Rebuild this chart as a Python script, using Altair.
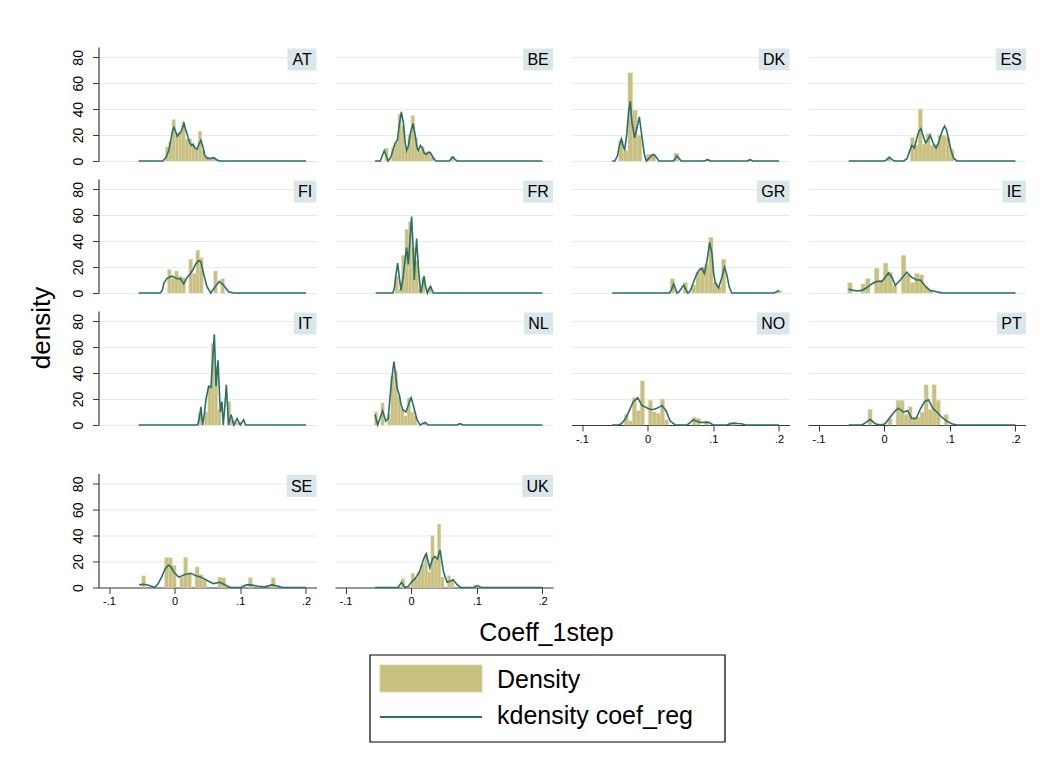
import altair as alt
import pandas as pd

# ---------------- data ----------------
COUNTRIES = ["AT", "BE", "DK", "ES", "FI", "FR", "GR", "IE", "IT", "NL", "NO", "PT", "SE", "UK"]

# histogram: first bin start, bin width, bin heights (density)
bin_start = {
    "AT": -0.014, "BE": -0.040, "DK": -0.044, "ES": 0.004, "FI": -0.0107, "FR": -0.0247,
    "GR": 0.0345, "IE": -0.0555, "IT": 0.0355, "NL": -0.056, "NO": -0.0355, "PT": -0.0245,
    "SE": -0.050, "UK": -0.015,
}
bin_width = {
    "AT": 0.005, "BE": 0.005, "DK": 0.007, "ES": 0.006, "FI": 0.0054, "FR": 0.0051,
    "GR": 0.0065, "IE": 0.0068, "IT": 0.005, "NL": 0.005, "NO": 0.0061, "PT": 0.0061,
    "SE": 0.0058, "UK": 0.005,
}
bin_height = {
    "AT": [11, 15, 32, 22, 22, 30, 17, 17, 12, 9, 23, 8, 3, 2, 3, 1],
    "BE": [10, 0, 10, 14, 36, 27, 8, 20, 35, 18, 8, 11, 7, 7, 3, 0, 0, 0, 0, 0, 3.5],
    "DK": [16, 8, 68, 39, 20, 0, 5, 5, 0, 0, 0, 0, 6, 0, 0, 0, 0, 0, 0, 1, 0, 0, 0, 0, 0, 0, 0, 0, 1],
    "ES": [3, 0, 0, 0, 0, 0, 18, 12, 40, 13, 21, 12, 13, 20, 20, 18, 9],
    "FI": [18, 11, 17, 13, 12, 0, 26, 15, 33, 27, 0, 0, 0, 17, 0, 11],
    "FR": [13, 3, 29, 49, 55, 35, 25, 3, 12, 0, 5],
    "GR": [11, 0, 0, 8, 0, 6, 16, 20, 22, 43, 8, 5, 26, 0, 0, 0, 0, 0, 0, 0, 0, 0, 0, 0, 0, 2],
    "IE": [8, 0, 0, 7, 11, 0, 19, 10, 23, 16, 6, 0, 29, 14, 8, 15, 14, 5, 2, 0, 1],
    "IT": [9, 0, 10, 30, 63, 45, 12, 0, 0, 18, 4, 2, 2],
    "NL": [10, 0, 17, 0, 8, 38, 42, 22, 12, 7, 21, 10, 7, 0, 0, 2, 0, 0, 0, 0, 0, 0, 0, 0, 0, 0, 1],
    "NO": [8, 3, 21, 11, 34, 0, 19, 10, 9, 20, 4, 0, 0, 0, 0, 0, 0, 6, 5, 0, 3, 0, 0, 0, 0, 0, 2, 1.5],
    "PT": [12, 0, 0, 0, 0, 5, 0, 19, 19, 8, 14, 6, 6, 10, 31, 12, 31, 19, 0, 8],
    "SE": [9, 0, 0, 0, 0, 0, 23, 23, 17, 0, 8, 23, 11, 0, 16, 10, 6, 0, 0, 0, 8, 7.5,
           0, 0, 0, 0, 0, 0, 7.5, 0, 0, 0, 0, 0, 7.5],
    "UK": [7, 0, 0, 11, 7, 12, 18, 26, 12, 40, 22, 49, 8, 0, 9, 5, 0, 0, 0, 0, 0, 0, 2],
}

# kernel density curves
kd_x = {
    "AT": [-0.055, -0.018, -0.013, -0.009, -0.006, -0.003, -0.001, 0.002, 0.004, 0.007, 0.010, 0.014, 0.017,
           0.020, 0.023, 0.026, 0.028, 0.031, 0.034, 0.037, 0.040, 0.043, 0.046, 0.050, 0.055, 0.060, 0.064,
           0.068, 0.2],
    "BE": [-0.055, -0.047, -0.044, -0.041, -0.038, -0.035, -0.031, -0.028, -0.025, -0.021, -0.018, -0.015,
           -0.012, -0.009, -0.007, -0.004, -0.001, 0.003, 0.006, 0.009, 0.011, 0.014, 0.017, 0.020, 0.023,
           0.027, 0.030, 0.034, 0.038, 0.058, 0.062, 0.064, 0.067, 0.070, 0.2],
    "DK": [-0.054, -0.050, -0.046, -0.043, -0.040, -0.037, -0.035, -0.032, -0.029, -0.0265, -0.024, -0.020,
           -0.016, -0.0127, -0.009, -0.005, -0.002, 0.002, 0.006, 0.009, 0.013, 0.017, 0.039, 0.042, 0.0447,
           0.048, 0.051, 0.087, 0.091, 0.095, 0.152, 0.156, 0.160, 0.2],
    "ES": [-0.054, 0.0, 0.004, 0.008, 0.012, 0.016, 0.030, 0.035, 0.039, 0.042, 0.046, 0.050, 0.053, 0.056,
           0.059, 0.063, 0.066, 0.070, 0.073, 0.076, 0.079, 0.082, 0.085, 0.089, 0.092, 0.095, 0.098, 0.102,
           0.106, 0.111, 0.2],
    "FI": [-0.055, -0.022, -0.019, -0.016, -0.012, -0.009, -0.004, 0.0, 0.004, 0.009, 0.0137, 0.019, 0.024,
           0.028, 0.0315, 0.0365, 0.040, 0.044, 0.049, 0.055, 0.062, 0.068, 0.0746, 0.082, 0.09, 0.2],
    "FR": [-0.054, -0.028, -0.0255, -0.0237, -0.0206, -0.018, -0.0155, -0.012, -0.0095, -0.0069, -0.0044,
           -0.002, 0.0007, 0.003, 0.0048, 0.0065, 0.0083, 0.011, 0.0144, 0.017, 0.0195, 0.022, 0.0246, 0.027,
           0.0296, 0.032, 0.0337, 0.2],
    "GR": [-0.054, 0.033, 0.0365, 0.0396, 0.0425, 0.0447, 0.048, 0.052, 0.055, 0.058, 0.061, 0.064, 0.0675,
           0.071, 0.075, 0.079, 0.0827, 0.0863, 0.0904, 0.0944, 0.098, 0.1005, 0.103, 0.108, 0.113, 0.117,
           0.1207, 0.124, 0.128, 0.192, 0.1965, 0.2],
    "IE": [-0.054, -0.047, -0.040, -0.034, -0.0265, -0.019, -0.011, -0.0036, 0.0015, 0.0066, 0.012, 0.017,
           0.0245, 0.0345, 0.042, 0.050, 0.055, 0.063, 0.070, 0.080, 0.088, 0.2],
    "IT": [-0.055, 0.035, 0.0375, 0.040, 0.0425, 0.045, 0.0477, 0.0518, 0.0553, 0.0584, 0.0604, 0.063, 0.066,
           0.0695, 0.072, 0.074, 0.0765, 0.0787, 0.082, 0.086, 0.090, 0.095, 0.100, 0.105, 0.108, 0.2],
    "NL": [-0.055, -0.051, -0.047, -0.0435, -0.0405, -0.0384, -0.035, -0.0325, -0.0297, -0.0262, -0.0235,
           -0.0211, -0.018, -0.015, -0.013, -0.0079, -0.0045, -0.0028, 0.0, 0.0033, 0.0083, 0.0134, 0.017,
           0.021, 0.026, 0.070, 0.074, 0.079, 0.2],
    "NO": [-0.054, -0.045, -0.040, -0.035, -0.029, -0.022, -0.015, -0.0086, -0.004, 0.0, 0.005, 0.009, 0.014,
           0.018, 0.022, 0.025, 0.028, 0.031, 0.0345, 0.042, 0.060, 0.065, 0.069, 0.074, 0.080, 0.087, 0.093,
           0.100, 0.120, 0.126, 0.131, 0.137, 0.143, 0.149, 0.2],
    "PT": [-0.054, -0.034, -0.0274, -0.0213, -0.0137, -0.006, 0.0015, 0.009, 0.0168, 0.0218, 0.0294, 0.036,
           0.042, 0.0487, 0.0548, 0.0614, 0.0675, 0.074, 0.0802, 0.0878, 0.0954, 0.103, 0.1107, 0.2],
    "SE": [-0.054, -0.048, -0.041, -0.035, -0.0305, -0.025, -0.02, -0.015, -0.0095, -0.0055, -0.0016, 0.0063,
           0.0157, 0.0247, 0.0325, 0.0404, 0.051, 0.059, 0.069, 0.077, 0.085, 0.101, 0.109, 0.1165, 0.127,
           0.1375, 0.148, 0.1585, 0.164, 0.2],
    "UK": [-0.055, -0.020, -0.0147, -0.0094, -0.004, 0.0, 0.0063, 0.0126, 0.0189, 0.023, 0.0284, 0.0325,
           0.0362, 0.040, 0.044, 0.0493, 0.0546, 0.0598, 0.064, 0.0703, 0.0756, 0.0966, 0.1008, 0.107, 0.2],
}
kd_y = {
    "AT": [0, 0, 3, 8, 16, 24, 26, 22, 19, 21, 23, 29, 24, 19, 14, 12, 13, 10, 9, 13, 16, 11, 4, 2, 2, 2.5, 1, 0, 0],
    "BE": [0, 0, 4, 8, 4, 0, 3, 8, 13, 16, 28, 38, 30, 14, 8, 12, 22, 29, 20, 10, 8, 12, 10, 6, 5, 7, 6, 2, 0, 0,
           2.5, 3, 1, 0, 0],
    "DK": [0, 0, 4, 12, 17, 11, 9, 20, 38, 46, 30, 18, 26, 34, 20, 5, 0, 2, 4.5, 5, 3, 0, 0, 2, 4, 2, 0, 0, 1.2,
           0, 0, 1, 0, 0],
    "ES": [0, 0, 1, 3, 1, 0, 0, 2, 8, 12, 10, 18, 23, 25, 20, 14, 16, 20, 16, 12, 10, 13, 18, 24, 27, 24, 17, 8,
           2, 0, 0],
    "FI": [0, 0, 2, 8, 11, 12, 13, 12, 11, 11, 7, 12, 15, 18, 22, 25, 24, 15, 5, 0, 5, 9, 6, 1, 0, 0],
    "FR": [0, 0, 4, 12, 23, 12, 2, 13, 25, 35, 22, 40, 59, 35, 10, 28, 42, 20, 0, 6, 13, 5, 0, 3, 5, 2, 0, 0],
    "GR": [0, 0, 3, 7, 3, 0, 1, 4, 6, 3, 0, 1, 5, 10, 15, 18, 19, 15, 25, 39, 30, 15, 8, 4, 12, 20, 14, 5, 0, 0,
           1, 2],
    "IE": [3, 2, 1.5, 2, 4, 7, 9, 9, 12, 15.5, 12, 6, 10, 16, 12, 10, 10, 5, 2, 1, 0, 0],
    "IT": [0, 0, 5, 14, 0, 8, 20, 30, 29, 55, 70, 30, 50, 10, 18, 0, 15, 31, 0, 8, 0, 5, 0, 4, 0, 0],
    "NL": [8, 0, 6, 11, 6, 3, 5, 20, 35, 49, 38, 28, 23, 15, 12, 10, 15, 18, 21, 15, 5, 0, 1, 2, 0, 0, 1, 0, 0],
    "NO": [0, 0, 1, 4, 10, 18, 21, 15, 14, 13, 12, 12, 13, 14, 15, 13, 11, 7, 3, 0, 0, 2, 4, 3, 2, 2, 2, 0, 0, 1,
           1.5, 1.2, 1, 0, 0],
    "PT": [0, 0, 2, 4.4, 1, 0, 1, 6, 11, 13, 10, 11, 5, 5, 12, 18, 19.5, 13, 10, 6, 3, 1, 0, 0],
    "SE": [2, 2.5, 2, 1, 0, 3, 8, 14, 17.3, 16, 12, 8, 10, 11, 9, 8, 5, 3, 4, 2, 0, 0, 2, 2, 1, 0.5, 2, 1, 0, 0],
    "UK": [0, 0, 4, 0, 1, 4, 7, 12, 22, 26, 15, 22, 24, 22, 29, 12, 4, 5, 6, 2, 0, 0, 1.5, 0, 0],
}

X_TICKS = [-0.1, 0, 0.1, 0.2]
Y_TICKS = [0, 20, 40, 60, 80]
X_TITLE = "Coeff_1step"
Y_TITLE = "density"
LEGEND_LABELS = ["Density", "kdensity coef_reg"]

# ---------------- styling ----------------
FONT = "Liberation Sans"
BAR = "#c8bf80"
BAR_EDGE = "#dcd6a6"
LINE = "#2b6f69"
GRID = "#e3ecef"
LABEL_BG = "#d9e6ea"
AX = "#3a3a3a"
W, H = 218, 114
XDOM = [-0.116, 0.216]
YDOM = [0, 88]
CHAR_W = {"A": .667, "B": .667, "D": .722, "E": .667, "F": .611, "G": .778, "I": .278, "K": .667,
          "L": .556, "N": .722, "O": .778, "P": .667, "R": .722, "S": .667, "T": .611, "U": .722}

# ---------------- tables ----------------
bar_rows = []
for c in COUNTRIES:
    for k, h in enumerate(bin_height[c]):
        if h > 0:
            x0 = bin_start[c] + k * bin_width[c]
            bar_rows.append({"country": c, "x": x0, "x2": x0 + bin_width[c], "y": h, "y0": 0})
bar_df = pd.DataFrame(bar_rows)

line_rows = []
for c in COUNTRIES:
    for i, (xv, yv) in enumerate(zip(kd_x[c], kd_y[c])):
        line_rows.append({"country": c, "x": xv, "y": yv, "i": i})
line_df = pd.DataFrame(line_rows)

x_label_expr = ("datum.value == 0 ? '0' : (datum.value < 0 ? '-' : '') + "
                "replace(format(abs(datum.value), '.1f'), '0.', '.')")


def panel(c, ylabels, xlabels):
    xs = alt.Scale(domain=XDOM, nice=False, zero=False)
    ys = alt.Scale(domain=YDOM, nice=False, zero=True)
    if xlabels:
        xax = alt.Axis(values=X_TICKS, labelExpr=x_label_expr, title=None, grid=False,
                       tickSize=6, tickColor=AX, domainColor=AX, domainWidth=1.2, tickWidth=1,
                       labelFontSize=11, labelPadding=2, labelColor="black", labelFont=FONT,
                       labelOverlap=False)
    else:
        xax = None
    if ylabels:
        yax = alt.Axis(values=Y_TICKS, tickCount=5, title=None, grid=True, gridColor=GRID, gridWidth=1,
                       tickSize=6, tickColor=AX, domainColor=AX, domainWidth=1.2,
                       labelAngle=-90, labelAlign="center", labelBaseline="bottom",
                       labelFontSize=14, labelPadding=7, labelColor="black", labelFont=FONT,
                       labelOverlap=False, labelSeparation=0, labelBound=False, labelFlush=False)
    else:
        yax = alt.Axis(values=Y_TICKS, tickCount=5, title=None, grid=True, gridColor=GRID, gridWidth=1,
                       labels=False, ticks=False, domain=False)

    bars = alt.Chart(bar_df[bar_df.country == c]).mark_rect(
        color=BAR, stroke=BAR_EDGE, strokeWidth=0.5
    ).encode(
        x=alt.X("x:Q", scale=xs, axis=xax),
        x2="x2:Q",
        y=alt.Y("y:Q", scale=ys, axis=yax),
        y2="y0:Q",
    )
    line = alt.Chart(line_df[line_df.country == c]).mark_line(
        color=LINE, strokeWidth=1.6
    ).encode(
        x=alt.X("x:Q", scale=xs, axis=xax),
        y=alt.Y("y:Q", scale=ys, axis=yax),
        order="i:Q",
    )
    bw = sum(CHAR_W[ch] for ch in c) * 16 + 8.5
    lab = pd.DataFrame({"label": [c]})
    box = alt.Chart(lab).mark_rect(color=LABEL_BG).encode(
        x=alt.value(W - bw), x2=alt.value(W), y=alt.value(1.5), y2=alt.value(23.5)
    )
    txt = alt.Chart(lab).mark_text(fontSize=16, font=FONT, color="black").encode(
        x=alt.value(W - bw / 2), y=alt.value(13), text="label:N"
    )
    return alt.layer(bars, line, box, txt).properties(width=W, height=H)


rows_spec = [COUNTRIES[0:4], COUNTRIES[4:8], COUNTRIES[8:12], COUNTRIES[12:14]]
rows = []
for ri, cs in enumerate(rows_spec):
    panels = [panel(c, ylabels=(j == 0), xlabels=(ri == 3 or (ri == 2 and j >= 2)))
              for j, c in enumerate(cs)]
    rows.append(alt.hconcat(*panels, spacing=18.5))

grid = alt.vconcat(alt.vconcat(rows[0], rows[1], rows[2], spacing=14), rows[3], spacing=29.5)

ytitle = alt.Chart(pd.DataFrame({"t": [Y_TITLE]})).mark_text(
    angle=270, fontSize=26, font=FONT, color="black"
).encode(x=alt.value(20), y=alt.value(281), text="t:N").properties(width=40, height=540)

top = alt.hconcat(ytitle, grid, spacing=8.5)

# bottom: x title + legend
OFF = 5
xt = alt.Chart(pd.DataFrame({"t": [X_TITLE]})).mark_text(
    fontSize=25, font=FONT, color="black"
).encode(x=alt.value(524.5), y=alt.value(21 + OFF), text="t:N")
leg_box = alt.Chart(pd.DataFrame({"a": [0]})).mark_rect(
    fill="white", stroke="black", strokeWidth=1.2
).encode(x=alt.value(348), x2=alt.value(703), y=alt.value(43 + OFF), y2=alt.value(130 + OFF))
leg_sw = alt.Chart(pd.DataFrame({"a": [0]})).mark_rect(
    color=BAR, stroke=BAR_EDGE, strokeWidth=1
).encode(x=alt.value(358), x2=alt.value(460), y=alt.value(53 + OFF), y2=alt.value(80 + OFF))
leg_ln = alt.Chart(pd.DataFrame({"a": [0]})).mark_rule(
    color=LINE, strokeWidth=2.2
).encode(x=alt.value(358), x2=alt.value(460), y=alt.value(105 + OFF))
leg_t1 = alt.Chart(pd.DataFrame({"t": [LEGEND_LABELS[0]]})).mark_text(
    fontSize=25, font=FONT, color="black", align="left", baseline="middle"
).encode(x=alt.value(475), y=alt.value(68 + OFF), text="t:N")
leg_t2 = alt.Chart(pd.DataFrame({"t": [LEGEND_LABELS[1]]})).mark_text(
    fontSize=25, font=FONT, color="black", align="left", baseline="middle"
).encode(x=alt.value(475), y=alt.value(104 + OFF), text="t:N")
bottom = alt.layer(xt, leg_box, leg_sw, leg_ln, leg_t1, leg_t2).properties(width=720, height=140)

chart = alt.vconcat(top, bottom, spacing=0).properties(
    padding={"left": 22, "top": 47, "right": 0, "bottom": 0}
).configure(font=FONT, background="white").configure_view(stroke=None, strokeWidth=0)

chart.save("out.html", embed_options={"renderer": "svg", "actions": False})
